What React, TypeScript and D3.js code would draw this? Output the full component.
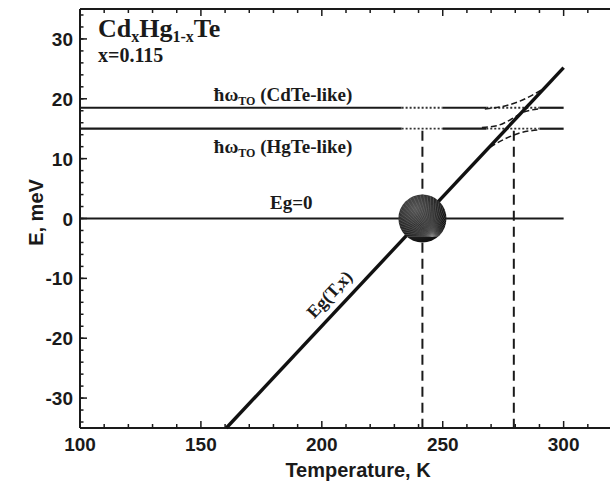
import React from "react";
import * as d3 from "d3";

// axis ranges and ticks
const tempDomain = [100, 320];
const energyDomain = [-35, 35];
const tempMajor = [100, 150, 200, 250, 300];
const energyMajor = [-30, -20, -10, 0, 10, 20, 30];

// phonon levels (meV) and their labels
const phononLevels = [18.5, 15.0];
const phononNames = ["CdTe-like", "HgTe-like"];
const phononEndT = 300;
const dottedRanges = [
  [233, 250],
  [268, 290],
];

// Eg(T,x) straight line, read at its two ends
const egT = [160.5, 300];
const egE = [-35, 25.2];

// Eg = 0 crossing and anticrossing temperatures (dashed verticals)
const markT = [241.6, 279.4];

// anticrossing branches (dashed)
const upperT = [267.4, 275.7, 281.9, 290.9];
const upperE = [18.3, 18.8, 19.6, 21.5];
const middleT = [266.2, 272.4, 278, 283, 290];
const middleE = [15.2, 15.5, 16.5, 17.7, 18.3];
const lowerT = [269.5, 275.7, 281.9, 290.1];
const lowerE = [11.9, 13.3, 14.3, 14.8];

const W = 610;
const H = 487;
const left = 80;
const top = 9;
const bottom = 428;
const right = 612;

const serif = "'Liberation Serif', 'Times New Roman', serif";
const sans = "'Liberation Sans', Arial, sans-serif";
const ink = "#1a1a1a";

export default function App() {
  const x = d3.scaleLinear().domain(tempDomain).range([left, right]);
  const y = d3.scaleLinear().domain(energyDomain).range([bottom, top]);

  const xMinor = d3.range(tempDomain[0], tempDomain[1] + 0.1, 10);
  const yMinor = d3.range(energyDomain[0] + 1, energyDomain[1], 2);

  const line = d3
    .line<[number, number]>()
    .x((d) => x(d[0]))
    .y((d) => y(d[1]));
  const curve = d3
    .line<[number, number]>()
    .curve(d3.curveMonotoneX)
    .x((d) => x(d[0]))
    .y((d) => y(d[1]));

  const zip = (a: number[], b: number[]) => a.map((v, i) => [v, b[i]] as [number, number]);

  // solid pieces of a phonon line between the dotted gaps
  const solidPieces: [number, number][] = [];
  let start = tempDomain[0];
  dottedRanges.forEach(([a, b]) => {
    solidPieces.push([start, a]);
    start = b;
  });
  solidPieces.push([start, phononEndT]);

  // angle of the Eg line on screen
  const dx = x(egT[1]) - x(egT[0]);
  const dy = y(egE[1]) - y(egE[0]);
  const ang = (Math.atan2(dy, dx) * 180) / Math.PI;
  const slope = (egE[1] - egE[0]) / (egT[1] - egT[0]);
  const egAt = (t: number) => egE[0] + slope * (t - egT[0]);
  const labT = 208;
  const nx = Math.sin((ang * Math.PI) / 180);
  const ny = -Math.cos((ang * Math.PI) / 180);
  const labX = x(labT) + nx * 10;
  const labY = y(egAt(labT)) + ny * 10;

  const cx = x(markT[0]);
  const cy = y(0);
  const r = 24;
  const fan = d3.range(0, 40).map((i) => (Math.PI * i) / 39);

  return (
    <div style={{ position: "fixed", left: 0, top: 0 }}>
      <svg width={W} height={H} style={{ display: "block", background: "#fff" }}>
        <defs>
          <clipPath id="ball">
            <circle cx={cx} cy={cy} r={r} />
          </clipPath>
          <radialGradient id="ballFill" cx="35%" cy="30%" r="75%">
            <stop offset="0%" stopColor="#5a5a5a" />
            <stop offset="100%" stopColor="#0d0d0d" />
          </radialGradient>
        </defs>

        {/* frame */}
        <line x1={left} x2={left} y1={top} y2={bottom} stroke={ink} strokeWidth={2} />
        <line x1={left} x2={W} y1={bottom} y2={bottom} stroke={ink} strokeWidth={2} />
        <line x1={left} x2={W} y1={top} y2={top} stroke={ink} strokeWidth={2} />

        {/* x ticks, bottom and top */}
        {xMinor.map((t) => {
          const major = tempMajor.includes(t);
          const len = major ? 7 : 4;
          return (
            <g key={"xt" + t}>
              <line x1={x(t)} x2={x(t)} y1={bottom} y2={bottom - len} stroke={ink} strokeWidth={1.5} />
              <line x1={x(t)} x2={x(t)} y1={top} y2={top + len} stroke={ink} strokeWidth={1.5} />
            </g>
          );
        })}
        {tempMajor.map((t) => (
          <text key={"xl" + t} x={x(t)} y={451} textAnchor="middle" fontFamily={sans} fontWeight="bold" fontSize={19} fill={ink}>
            {t}
          </text>
        ))}

        {/* y ticks */}
        {yMinor.map((e) => (
          <line key={"ym" + e} x1={left} x2={left + 3.5} y1={y(e)} y2={y(e)} stroke={ink} strokeWidth={1.5} />
        ))}
        {energyMajor.map((e) => (
          <g key={"yl" + e}>
            <line x1={left} x2={left + 7} y1={y(e)} y2={y(e)} stroke={ink} strokeWidth={1.5} />
            <text x={73} y={y(e) + 7} textAnchor="end" fontFamily={sans} fontWeight="bold" fontSize={19} fill={ink}>
              {e}
            </text>
          </g>
        ))}

        {/* axis titles */}
        <text x={358} y={477} textAnchor="middle" fontFamily={sans} fontWeight="bold" fontSize={20} fill={ink}>
          Temperature, K
        </text>
        <text transform={`translate(43,${y(0) - 6}) rotate(-90)`} textAnchor="middle" fontFamily={sans} fontWeight="bold" fontSize={20} fill={ink}>
          E, meV
        </text>

        {/* phonon lines */}
        {phononLevels.map((lev, k) => (
          <g key={"ph" + k}>
            {solidPieces.map(([a, b], i) => (
              <line key={"s" + i} x1={x(a)} x2={x(b)} y1={y(lev)} y2={y(lev)} stroke={ink} strokeWidth={2.2} />
            ))}
            {dottedRanges.map(([a, b], i) => (
              <line key={"d" + i} x1={x(a)} x2={x(b)} y1={y(lev)} y2={y(lev)} stroke="#333" strokeWidth={1.8} strokeDasharray="2,2" />
            ))}
          </g>
        ))}

        {/* Eg = 0 */}
        <line x1={x(tempDomain[0])} x2={x(phononEndT)} y1={y(0)} y2={y(0)} stroke={ink} strokeWidth={2} />

        {/* dashed verticals */}
        {markT.map((t) => (
          <line key={"v" + t} x1={x(t)} x2={x(t)} y1={y(phononLevels[1]) + 2} y2={bottom} stroke={ink} strokeWidth={2} strokeDasharray="10,6" />
        ))}

        {/* anticrossing branches */}
        {[zip(upperT, upperE), zip(middleT, middleE), zip(lowerT, lowerE)].map((pts, i) => (
          <path key={"b" + i} d={curve(pts) || ""} fill="none" stroke={ink} strokeWidth={1.5} strokeDasharray="6,3" />
        ))}

        {/* Eg(T,x) */}
        <path d={line(zip(egT, egE)) || ""} fill="none" stroke="#111" strokeWidth={3.4} />

        {/* ball at Eg = 0 */}
        <circle cx={cx} cy={cy} r={r} fill="url(#ballFill)" />
        <g clipPath="url(#ball)">
          {fan.map((a, i) => (
            <line
              key={"f" + i}
              x1={cx + r * 0.4}
              y1={cy + r * 0.75}
              x2={cx + r * 0.4 - Math.cos(a) * 3 * r}
              y2={cy + r * 0.75 - Math.sin(a) * 3 * r}
              stroke="#8a8a8a"
              strokeWidth={0.5}
              opacity={0.7}
            />
          ))}
        </g>

        {/* labels */}
        <text x={98} y={37} fontFamily={serif} fontWeight="bold" fontSize={26} fill={ink}>
          Cd
          <tspan fontSize={16} dy={5}>x</tspan>
          <tspan dy={-5}>Hg</tspan>
          <tspan fontSize={16} dy={5}>1-x</tspan>
          <tspan dy={-5}>Te</tspan>
        </text>
        <text x={98} y={62} fontFamily={serif} fontWeight="bold" fontSize={20} fill={ink}>
          x=0.115
        </text>

        {phononLevels.map((lev, k) => (
          <text
            key={"pl" + k}
            x={x(184)}
            y={k === 0 ? y(lev) - 7 : y(lev) + 24}
            textAnchor="middle"
            fontFamily={serif}
            fontWeight="bold"
            fontSize={19}
            fill={ink}
          >
            ħω
            <tspan fontSize={12} dy={4}>TO</tspan>
            <tspan dy={-4}> ({phononNames[k]})</tspan>
          </text>
        ))}

        <text x={x(187.4)} y={y(0) - 9.5} textAnchor="middle" fontFamily={serif} fontWeight="bold" fontSize={19} fill={ink}>
          Eg=0
        </text>

        <text
          transform={`translate(${labX},${labY}) rotate(${ang})`}
          textAnchor="middle"
          fontFamily={serif}
          fontWeight="bold"
          fontSize={18}
          fill={ink}
        >
          Eg(T,x)
        </text>
      </svg>
    </div>
  );
}
